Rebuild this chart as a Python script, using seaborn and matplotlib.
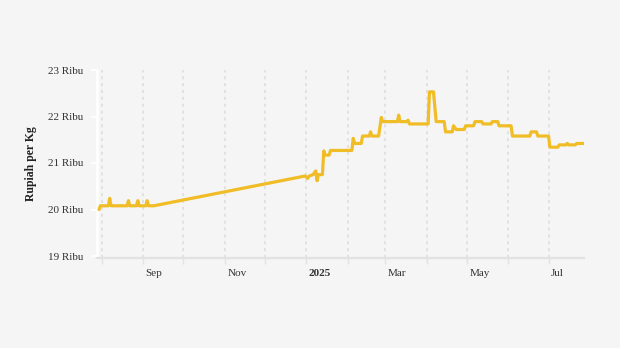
import matplotlib
matplotlib.use("Agg")
import matplotlib.pyplot as plt
import matplotlib.dates as mdates
import matplotlib.transforms as mtransforms
import pandas as pd
import seaborn as sns

# ---- data ----
dates = [
    "2024-07-30", "2024-07-31", "2024-08-06", "2024-08-07", "2024-08-08",
    "2024-08-20", "2024-08-21", "2024-08-22", "2024-08-27", "2024-08-28",
    "2024-08-29", "2024-09-03", "2024-09-04", "2024-09-05", "2024-09-09",
    "2024-12-31", "2025-01-02", "2025-01-03", "2025-01-06", "2025-01-08",
    "2025-01-09", "2025-01-10", "2025-01-13", "2025-01-14", "2025-01-15",
    "2025-01-18", "2025-01-19", "2025-02-04", "2025-02-05", "2025-02-06",
    "2025-02-11", "2025-02-12", "2025-02-17", "2025-02-18", "2025-02-19",
    "2025-02-24", "2025-02-26", "2025-02-27", "2025-03-10", "2025-03-11",
    "2025-03-12", "2025-03-17", "2025-03-18", "2025-03-19", "2025-04-02",
    "2025-04-03", "2025-04-06", "2025-04-08", "2025-04-14", "2025-04-15",
    "2025-04-20", "2025-04-21", "2025-04-23", "2025-04-29", "2025-04-30",
    "2025-05-06", "2025-05-07", "2025-05-12", "2025-05-13", "2025-05-19",
    "2025-05-20", "2025-05-24", "2025-05-25", "2025-06-03", "2025-06-04",
    "2025-06-17", "2025-06-18", "2025-06-22", "2025-06-23", "2025-07-01",
    "2025-07-02", "2025-07-08", "2025-07-09", "2025-07-14", "2025-07-15",
    "2025-07-16", "2025-07-21", "2025-07-22", "2025-07-27",
]
prices = [
    20.00, 20.08, 20.08, 20.24, 20.08,
    20.08, 20.19, 20.08, 20.08, 20.19,
    20.08, 20.08, 20.19, 20.08, 20.08,
    20.72, 20.67, 20.72, 20.75, 20.83,
    20.62, 20.75, 20.75, 21.26, 21.17,
    21.17, 21.27, 21.27, 21.53, 21.42,
    21.42, 21.58, 21.58, 21.67, 21.58,
    21.58, 21.98, 21.89, 21.89, 22.03,
    21.89, 21.89, 21.92, 21.84, 21.84,
    22.53, 22.53, 21.89, 21.89, 21.67,
    21.67, 21.80, 21.72, 21.72, 21.80,
    21.80, 21.89, 21.89, 21.84, 21.84,
    21.89, 21.89, 21.80, 21.80, 21.58,
    21.58, 21.67, 21.67, 21.58, 21.58,
    21.34, 21.34, 21.39, 21.39, 21.42,
    21.39, 21.39, 21.42, 21.42,
]
y_ticks = [19, 20, 21, 22, 23]
y_tick_labels = ["19 Ribu", "20 Ribu", "21 Ribu", "22 Ribu", "23 Ribu"]
month_ticks = pd.date_range("2024-08-01", "2025-07-01", freq="MS")
month_labels = ["", "Sep", "", "Nov", "", "2025", "", "Mar", "", "May", "", "Jul"]

df = pd.DataFrame({"date": pd.to_datetime(dates), "price": prices})

# ---- style ----
BG = "#f5f5f5"
sns.set_theme(style="white")
plt.rcParams["font.family"] = ["Liberation Serif", "DejaVu Serif"]

fig = plt.figure(figsize=(6.2, 3.48), dpi=100, facecolor=BG)
ax = fig.add_axes([97 / 620, 90 / 348, (584 - 97) / 620, (258 - 70) / 348])
ax.set_facecolor(BG)

sns.lineplot(data=df, x="date", y="price", ax=ax, color="#f0bd27",
             linewidth=2.3, solid_joinstyle="round", solid_capstyle="round",
             zorder=3)

ax.set_xlim(pd.Timestamp("2024-07-28 12:00"), pd.Timestamp("2025-07-27 12:00"))
ax.set_ylim(19 - 2 / 46.5, 23)

# vertical dotted gridlines at month starts
for d in month_ticks:
    ax.axvline(d, ymin=0, ymax=1, color="#dcdcdc", lw=1.1,
               linestyle=(0, (2, 2.5)), zorder=1)

ax.set_yticks(y_ticks)
ax.set_yticklabels(y_tick_labels)
ax.set_xticks(month_ticks)
ax.set_xticklabels(month_labels)

ax.tick_params(axis="y", length=4, width=1.2, color="white", pad=6,
               labelsize=8, labelcolor="#333333", left=True)
ax.tick_params(axis="x", length=4, width=1, color="#e2e2e2", pad=4,
               labelsize=8, labelcolor="#333333", bottom=True)

offset = mtransforms.ScaledTranslation(2.5 / 100, 0, fig.dpi_scale_trans)
for lab in ax.get_xticklabels():
    lab.set_horizontalalignment("left")
    lab.set_transform(lab.get_transform() + offset)
    if lab.get_text() == "2025":
        lab.set_fontweight("bold")

for s in ["top", "right"]:
    ax.spines[s].set_visible(False)
ax.spines["left"].set_color("white")
ax.spines["left"].set_linewidth(1.8)
ax.spines["bottom"].set_color("#e2e2e2")
ax.spines["bottom"].set_linewidth(1.6)

ax.set_xlabel("")
ax.set_ylabel("Rupiah per Kg", fontsize=8.5, fontweight="bold",
              color="#222222")
ax.yaxis.set_label_coords(-(97 - 37) / (584 - 97), 0.5)

fig.savefig("out.png", dpi=100, facecolor=BG)
